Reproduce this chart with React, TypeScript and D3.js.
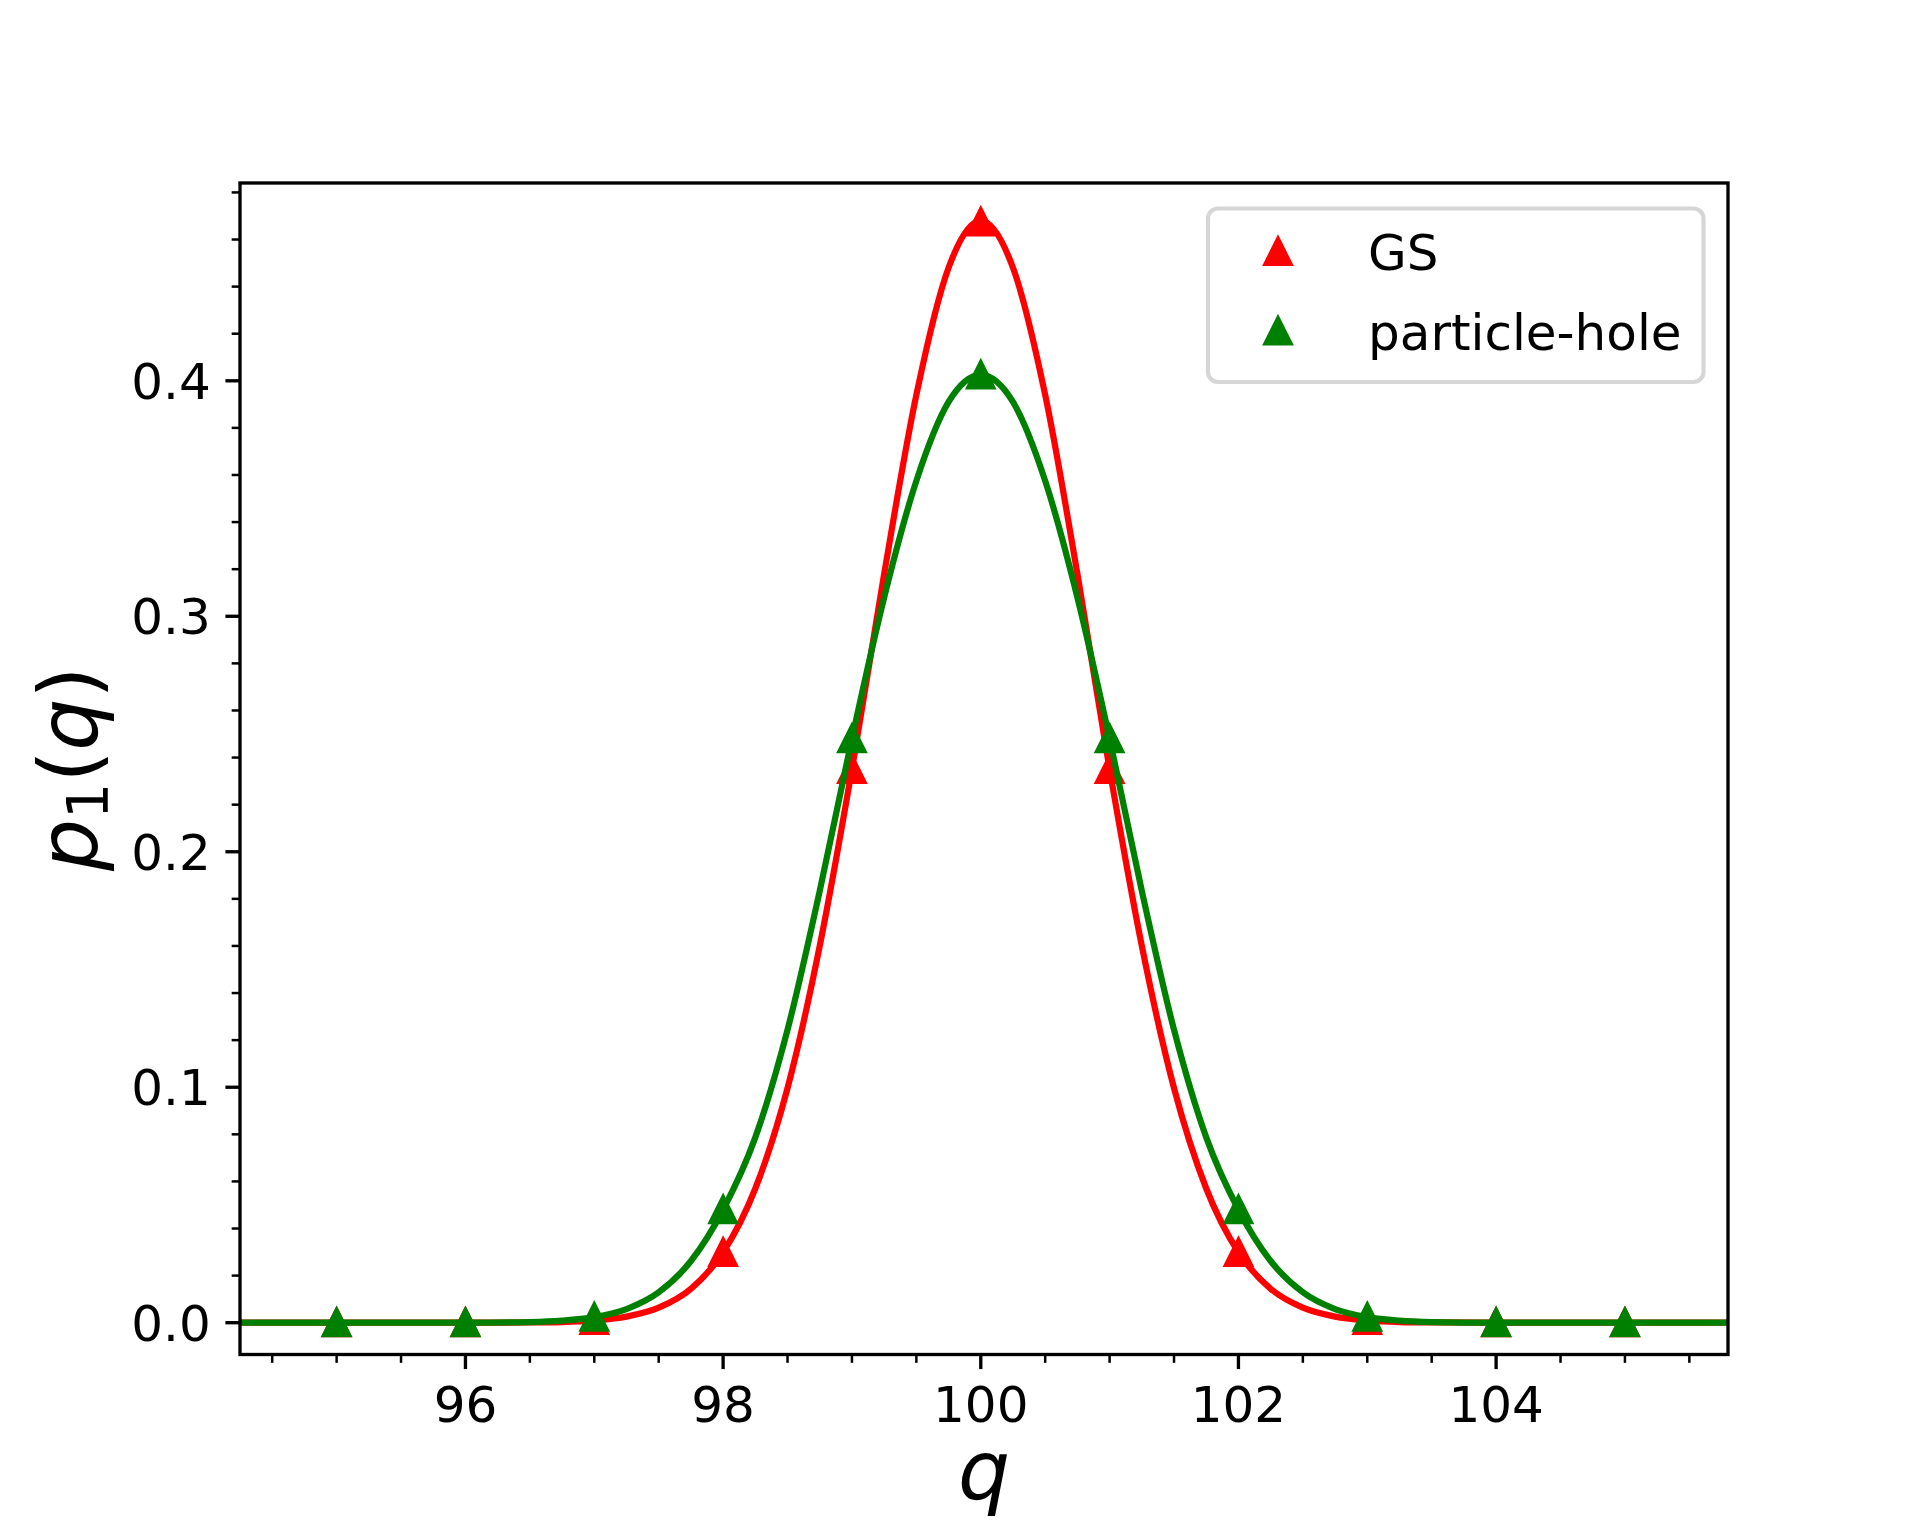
import * as d3 from "d3";

// discrete occupation probabilities (markers)
const qPoints = [95, 96, 97, 98, 99, 100, 101, 102, 103, 104, 105];
const gsPoints = [0, 0, 0.001, 0.0299, 0.235, 0.4675, 0.235, 0.0299, 0.001, 0, 0];
const phPoints = [0, 0, 0.0024, 0.048, 0.248, 0.4025, 0.248, 0.048, 0.0024, 0, 0];

// continuous curves
const curveQ = [
  94, 95, 96, 96.5, 96.75, 97, 97.25, 97.5, 97.75, 98, 98.25, 98.5, 98.75, 99, 99.25, 99.5, 99.75,
  100, 100.25, 100.5, 100.75, 101, 101.25, 101.5, 101.75, 102, 102.25, 102.5, 102.75, 103, 103.25,
  103.5, 104, 105, 106,
];
const gsCurve = [
  0, 0, 0, 0.0001, 0.0003, 0.001, 0.0026, 0.0064, 0.0144, 0.0299, 0.057, 0.0996, 0.16, 0.235, 0.318,
  0.394, 0.448, 0.468, 0.448, 0.394, 0.318, 0.235, 0.16, 0.0996, 0.057, 0.0299, 0.0144, 0.0064,
  0.0026, 0.001, 0.0003, 0.0001, 0, 0, 0,
];
const phCurve = [
  0, 0, 0, 0.0003, 0.0009, 0.0024, 0.0058, 0.0129, 0.0262, 0.048, 0.0787, 0.1244, 0.1834, 0.248,
  0.308, 0.3575, 0.391, 0.4025, 0.391, 0.3575, 0.308, 0.248, 0.1834, 0.1244, 0.0787, 0.048, 0.0262,
  0.0129, 0.0058, 0.0024, 0.0009, 0.0003, 0, 0, 0,
];

const xTicks = [96, 98, 100, 102, 104];
const yTicks = [0, 0.1, 0.2, 0.3, 0.4];
const legendLabels = ["GS", "particle-hole"];

const W = 1920;
const H = 1522;
const M = { left: 240, right: 1728, top: 183, bottom: 1354.5 };
const FONT = "DejaVu Sans";
const PT = 300 / 72;
const RED = "#ff0000";
const GREEN = "#008000";
const TRI = `M0,${-3 * PT} L${3 * PT},${3 * PT} L${-3 * PT},${3 * PT} Z`;

export default function App() {
  const x = d3.scaleLinear().domain([94.25, 105.8]).range([M.left, M.right]);
  const y = d3.scaleLinear().domain([-0.0135, 0.484]).range([M.bottom, M.top]);

  const xMinor = d3.range(94.5, 105.8, 0.5).filter((v) => !xTicks.includes(v));
  const yMinor = d3
    .range(1, 25)
    .map((i) => +(i * 0.02).toFixed(2))
    .filter((v) => !yTicks.some((t) => Math.abs(t - v) < 1e-9));

  const line = d3
    .line<number>()
    .x((_, i) => x(curveQ[i]))
    .y((d) => y(d))
    .curve(d3.curveMonotoneX);

  const series = [
    { color: RED, curve: gsCurve, pts: gsPoints },
    { color: GREEN, curve: phCurve, pts: phPoints },
  ];

  const tick = (len: number, w: number) => ({ stroke: "#000", strokeWidth: w * PT, len: len * PT });
  const major = tick(3.5, 0.8);
  const minor = tick(2, 0.6);

  const lg = { x: 1208, y: 208.5, w: 495.5, h: 173.5 };

  return (
    <svg
      width={W}
      height={H}
      viewBox={`0 0 ${W} ${H}`}
      style={{ position: "absolute", left: 0, top: 0, display: "block", background: "#fff" }}
      fontFamily={FONT}
    >
      <defs>
        <clipPath id="plot">
          <rect x={M.left} y={M.top} width={M.right - M.left} height={M.bottom - M.top} />
        </clipPath>
      </defs>
      <rect x={0} y={0} width={W} height={H} fill="#fff" />

      <g clipPath="url(#plot)">
        {series.map((s, k) => (
          <g key={k}>
            <path d={line(s.curve) ?? ""} fill="none" stroke={s.color} strokeWidth={1.5 * PT} />
            {s.pts.map((v, i) => (
              <path
                key={i}
                d={TRI}
                transform={`translate(${x(qPoints[i])},${y(v)})`}
                fill={s.color}
                stroke={s.color}
                strokeWidth={1 * PT}
                strokeLinejoin="miter"
              />
            ))}
          </g>
        ))}
      </g>

      {/* x ticks */}
      {xMinor.map((v) => (
        <line key={`xm${v}`} x1={x(v)} x2={x(v)} y1={M.bottom} y2={M.bottom + minor.len} stroke="#000" strokeWidth={minor.strokeWidth} />
      ))}
      {xTicks.map((v) => (
        <g key={`x${v}`}>
          <line x1={x(v)} x2={x(v)} y1={M.bottom} y2={M.bottom + major.len} stroke="#000" strokeWidth={major.strokeWidth} />
          <text x={x(v)} y={1421.5} fontSize={50} textAnchor="middle" fill="#000">
            {String(v)}
          </text>
        </g>
      ))}

      {/* y ticks */}
      {yMinor.map((v) => (
        <line key={`ym${v}`} x1={M.left - minor.len} x2={M.left} y1={y(v)} y2={y(v)} stroke="#000" strokeWidth={minor.strokeWidth} />
      ))}
      {yTicks.map((v) => (
        <g key={`y${v}`}>
          <line x1={M.left - major.len} x2={M.left} y1={y(v)} y2={y(v)} stroke="#000" strokeWidth={major.strokeWidth} />
          <text x={M.left - 2 * major.len} y={y(v)} dy="0.36em" fontSize={50} textAnchor="end" fill="#000">
            {v.toFixed(1)}
          </text>
        </g>
      ))}

      {/* spines */}
      <rect
        x={M.left}
        y={M.top}
        width={M.right - M.left}
        height={M.bottom - M.top}
        fill="none"
        stroke="#000"
        strokeWidth={0.8 * PT}
      />

      {/* axis labels */}
      <text x={(M.left + M.right) / 2} y={1499} fontSize={82} textAnchor="middle" fontStyle="italic">
        q
      </text>
      <text transform={`translate(97,${(M.top + M.bottom) / 2}) rotate(-90)`} fontSize={82} textAnchor="middle">
        <tspan fontStyle="italic">p</tspan>
        <tspan fontSize={57} dy={11}>1</tspan>
        <tspan dy={-11}>(</tspan>
        <tspan fontStyle="italic">q</tspan>
        <tspan>)</tspan>
      </text>

      {/* legend */}
      <rect
        x={lg.x}
        y={lg.y}
        width={lg.w}
        height={lg.h}
        rx={10}
        fill="#fff"
        fillOpacity={0.8}
        stroke="#d6d6d6"
        strokeWidth={1 * PT}
      />
      {legendLabels.map((label, i) => (
        <g key={label}>
          <path
            d={TRI}
            transform={`translate(1278,${251.5 + i * 79.5})`}
            fill={series[i].color}
            stroke={series[i].color}
            strokeWidth={1 * PT}
          />
          <text x={1368} y={270 + i * 79.5} fontSize={50} fill="#000">
            {label}
          </text>
        </g>
      ))}
    </svg>
  );
}
